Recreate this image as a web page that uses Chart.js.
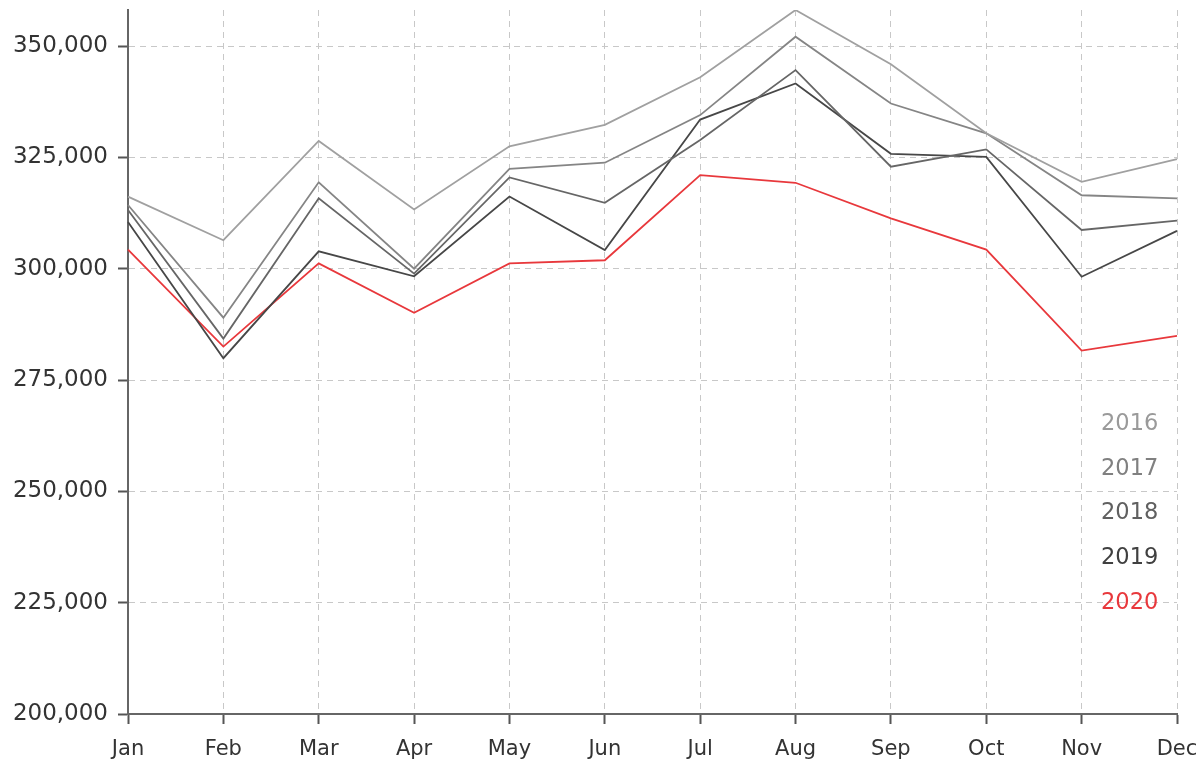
<!DOCTYPE html>
<html>
<head>
<meta charset="utf-8">
<script src="https://cdn.jsdelivr.net/npm/chart.js@4.4.0/dist/chart.umd.min.js"></script>
<style>
  html, body { margin: 0; padding: 0; background: #fff; }
  #wrap { width: 1200px; height: 762px; position: relative; }
</style>
</head>
<body>
<div id="wrap"><canvas id="c" width="1200" height="762"></canvas></div>
<script>
const months = ['Jan','Feb','Mar','Apr','May','Jun','Jul','Aug','Sep','Oct','Nov','Dec'];
const years = ['2016','2017','2018','2019','2020'];
const v2016 = [316200, 306400, 328700, 313300, 327500, 332300, 343000, 358100, 345900, 330400, 319500, 324600];
const v2017 = [314300, 289000, 319400, 300000, 322400, 323800, 334500, 352100, 337100, 330400, 316500, 315800];
const v2018 = [313200, 284300, 315800, 298900, 320500, 314800, 328900, 344600, 322900, 326800, 308700, 310800];
const v2019 = [310500, 279900, 303900, 298300, 316200, 304200, 333500, 341600, 325800, 325100, 298200, 308500];
const v2020 = [304300, 282500, 301200, 290100, 301200, 301900, 321000, 319300, 311300, 304300, 281600, 284900];
const yTicks = [200000, 225000, 250000, 275000, 300000, 325000, 350000];

const seriesValues = [v2016, v2017, v2018, v2019, v2020];
const lineColors = ['#a0a0a0', '#858585', '#666666', '#474747', '#e8383c'];
const labelColors = ['#9a9a9a', '#808080', '#606060', '#404040', '#e8383c'];

const FONT = '"DejaVu Sans", sans-serif';

const legendPlugin = {
  id: 'sideLegend',
  afterDraw(chart) {
    const ctx = chart.ctx;
    const ca = chart.chartArea;
    ctx.save();
    ctx.font = '22.5px ' + FONT;
    ctx.textAlign = 'left';
    ctx.textBaseline = 'middle';
    chart.data.datasets.forEach((ds, i) => {
      ctx.fillStyle = labelColors[i];
      ctx.fillText(ds.label, ca.right - 76, ca.top + 414 + i * 44.7);
    });
    ctx.restore();
  }
};

const gridOpts = {
  color: '#c8c8c8',
  lineWidth: 1,
  drawTicks: true,
  tickLength: 10,
  tickColor: '#555',
  tickWidth: 2,
  tickBorderDash: []
};

new Chart(document.getElementById('c'), {
  type: 'line',
  data: {
    labels: months,
    datasets: years.map((y, i) => ({
      label: y,
      data: seriesValues[i],
      borderColor: lineColors[i],
      backgroundColor: lineColors[i],
      borderWidth: 1.8,
      pointRadius: 0,
      tension: 0,
      fill: false
    }))
  },
  options: {
    responsive: false,
    animation: false,
    events: [],
    layout: { padding: { top: 0, right: 0, left: 0, bottom: 0 } },
    plugins: { legend: { display: false }, tooltip: { enabled: false } },
    scales: {
      x: {
        offset: false,
        grid: gridOpts,
        border: { display: true, color: '#666', width: 2, dash: [6, 5] },
        ticks: {
          color: '#333',
          font: { family: FONT, size: 21 },
          padding: 13,
          maxRotation: 0,
          autoSkip: false
        },
        afterFit(s) { s.height = 48; s.paddingRight = 23; s.paddingLeft = 0; }
      },
      y: {
        min: 200000,
        max: 358100,
        afterBuildTicks(s) { s.ticks = yTicks.map(v => ({ value: v })); },
        grid: gridOpts,
        border: { display: true, color: '#666', width: 2, dash: [6, 5] },
        ticks: {
          color: '#333',
          font: { family: FONT, size: 23 },
          padding: 10,
          callback: v => v.toLocaleString('en-US')
        },
        afterFit(s) { s.width = 128; s.paddingTop = 10; s.paddingBottom = 0; }
      }
    }
  },
  plugins: [legendPlugin]
});
</script>
</body>
</html>
